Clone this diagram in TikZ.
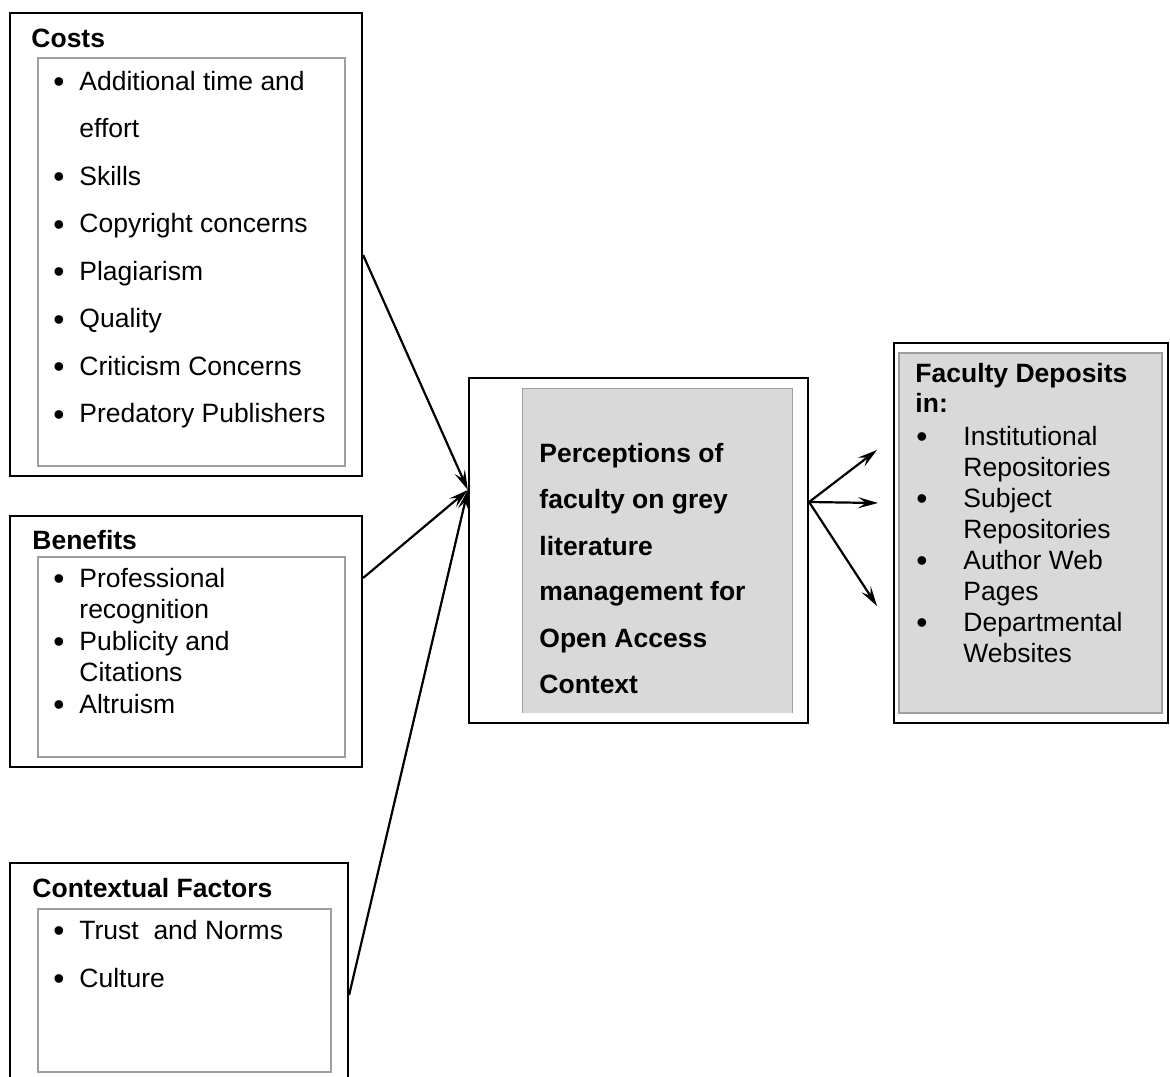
\documentclass[12pt,tikz,border=0pt]{standalone}
\usepackage{fontspec}
\setmainfont{Liberation Sans}
\usetikzlibrary{arrows.meta}
\usetikzlibrary{fit}

\tikzset{
  outerbox/.style={draw=black,line width=1pt,inner sep=0pt},
  innerbox/.style={draw=black!38,line width=0.7pt,inner sep=0pt},
  greyfill/.style={fill=black!15,inner sep=0pt},
  head/.style={anchor=base west,inner sep=0pt,font=\bfseries},
  txt/.style={anchor=base west,inner sep=0pt},
  dot/.style={anchor=base,inner sep=0pt,font=\large,yshift=-1.3pt},
  link/.style={black,line width=1pt,-{Stealth[length=9pt,width=5pt,inset=3.5pt]}}
}

\begin{document}
\begin{tikzpicture}[x=0.453pt,y=-0.453pt]
            \useasboundingbox (0,0) rectangle (1170,1076);

            \node[outerbox,fit={(10,13) (362,476)}] (costs) {};
            \node[innerbox,fit={(38,58) (345,466)}] (costsin) {};
            \node[head] (costsh) at (31,47) {Costs};
            \node[dot] (cb1) at (59,90) {\textbullet};
            \node[txt] (ct1) at (79,90) {Additional time and};
            \node[txt] (ct1b) at (79,137.5) {effort};
            \node[dot] (cb2) at (59,185) {\textbullet};
            \node[txt] (ct2) at (79,185) {Skills};
            \node[dot] (cb3) at (59,232.5) {\textbullet};
            \node[txt] (ct3) at (79,232.5) {Copyright concerns};
            \node[dot] (cb4) at (59,280) {\textbullet};
            \node[txt] (ct4) at (79,280) {Plagiarism};
            \node[dot] (cb5) at (59,327.5) {\textbullet};
            \node[txt] (ct5) at (79,327.5) {Quality};
            \node[dot] (cb6) at (59,375) {\textbullet};
            \node[txt] (ct6) at (79,375) {Criticism Concerns};
            \node[dot] (cb7) at (59,422.5) {\textbullet};
            \node[txt] (ct7) at (79,422.5) {Predatory Publishers};

            \node[outerbox,fit={(10,516) (362,767)}] (benefits) {};
            \node[innerbox,fit={(38,557) (345,757)}] (benefitsin) {};
            \node[head] (benefitsh) at (32,549) {Benefits};
            \node[dot] (bb1) at (59,587) {\textbullet};
            \node[txt] (bt1) at (79,587) {Professional};
            \node[txt] (bt1b) at (79,618.5) {recognition};
            \node[dot] (bb2) at (59,650) {\textbullet};
            \node[txt] (bt2) at (79,650) {Publicity and};
            \node[txt] (bt2b) at (79,681.5) {Citations};
            \node[dot] (bb3) at (59,713) {\textbullet};
            \node[txt] (bt3) at (79,713) {Altruism};

            \node[outerbox,fit={(10,863) (348,1095)}] (context) {};
            \node[innerbox,fit={(38,909) (331,1072)}] (contextin) {};
            \node[head] (contexth) at (32,897) {Contextual Factors};
            \node[dot] (xb1) at (59,939) {\textbullet};
            \node[txt] (xt1) at (79,939) {Trust\ \ and Norms};
            \node[dot] (xb2) at (59,987) {\textbullet};
            \node[txt] (xt2) at (79,987) {Culture};

            \node[outerbox,fit={(469,378) (808,723)}] (percep) {};
            \node[greyfill,fit={(523,389) (792,713)}] (percepin) {};
            \draw[black!38,line width=0.7pt] (percepin.south west) -- (percepin.north west)
                -- (percepin.north east) -- (percepin.south east);
            \node[head] (pt1) at (539,462) {Perceptions of};
            \node[head] (pt2) at (539,508) {faculty on grey};
            \node[head] (pt3) at (539,555) {literature};
            \node[head] (pt4) at (539,600) {management for};
            \node[head] (pt5) at (539,647) {Open Access};
            \node[head] (pt6) at (539,693) {Context};

            \node[outerbox,fit={(894,343) (1168,723)}] (deposits) {};
            \node[innerbox,greyfill,fit={(899,353) (1162,713)}] (depositsin) {};
            \node[head] (dh1) at (915,382) {Faculty Deposits};
            \node[head] (dh2) at (915,412) {in:};
            \node[dot] (db1) at (922,445) {\textbullet};
            \node[txt] (dt1) at (963,445) {Institutional};
            \node[txt] (dt1b) at (963,476) {Repositories};
            \node[dot] (db2) at (922,507) {\textbullet};
            \node[txt] (dt2) at (963,507) {Subject};
            \node[txt] (dt2b) at (963,538) {Repositories};
            \node[dot] (db3) at (922,569) {\textbullet};
            \node[txt] (dt3) at (963,569) {Author Web};
            \node[txt] (dt3b) at (963,600) {Pages};
            \node[dot] (db4) at (922,631) {\textbullet};
            \node[txt] (dt4) at (963,631) {Departmental};
            \node[txt] (dt4b) at (963,662) {Websites};

            \coordinate (hub) at (percep.west |- 0,490);
            \coordinate (fork) at (percep.east |- 0,502);
            \coordinate (outa) at (877,450);
            \coordinate (outb) at (878,503);
            \coordinate (outc) at (877,606);
            \draw[link] (costs.east |- 0,255) -- (hub);
            \draw[link] (benefits.east |- 0,578) -- (hub);
            \draw[link] (context.east |- 0,995) -- (hub);
            \draw[link] (fork) -- (outa);
            \draw[link] (fork) -- (outb);
            \draw[link] (fork) -- (outc);
        \end{tikzpicture}
\end{document}
